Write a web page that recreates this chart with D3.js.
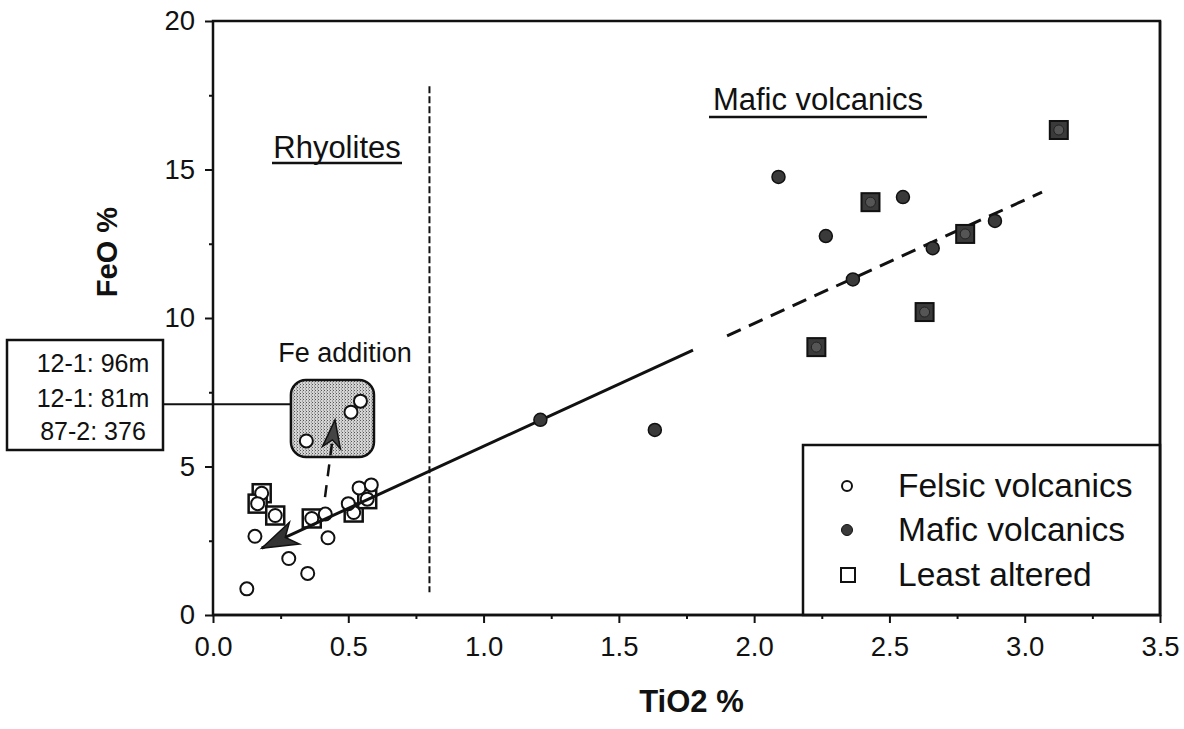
<!DOCTYPE html>
<html>
<head>
<meta charset="utf-8">
<script src="https://cdn.jsdelivr.net/npm/d3@7"></script>
<style>
  html, body { margin: 0; padding: 0; background: #fff; }
  svg { display: block; font-family: "Liberation Sans", Arial, Helvetica, sans-serif; }
</style>
</head>
<body>
<svg id="chart" width="1184" height="729"></svg>
<script>
// ---------- data ----------
const xTickValues = [0, 0.5, 1.0, 1.5, 2.0, 2.5, 3.0, 3.5];
const yTickValues = [0, 5, 10, 15, 20];

// Felsic volcanics (open circles)
const felsicTi = [0.125, 0.155, 0.28, 0.35, 0.425, 0.415, 0.50, 0.54, 0.585, 0.345, 0.51, 0.545];
const felsicFe = [0.88, 2.65, 1.90, 1.40, 2.60, 3.40, 3.75, 4.28, 4.38, 5.86, 6.83, 7.20];

// Felsic volcanics, least altered (circle inside open square)
const felsicLeastTi = [0.18, 0.165, 0.23, 0.365, 0.52, 0.57];
const felsicLeastFe = [4.10, 3.75, 3.35, 3.25, 3.45, 3.90];

// Mafic volcanics (filled circles)
const maficTi = [1.21, 1.633, 2.09, 2.55, 2.265, 2.365, 2.66, 2.89];
const maficFe = [6.57, 6.23, 14.75, 14.07, 12.76, 11.30, 12.35, 13.27];

// Mafic volcanics, least altered (filled squares)
const maficLeastTi = [2.43, 2.78, 2.63, 2.23, 3.126];
const maficLeastFe = [13.90, 12.83, 10.20, 9.02, 16.33];

// Trend line (solid part with arrow, dashed extension)
const trendSolidTi = [0.18, 1.774];
const trendSolidFe = [2.25, 8.92];
const trendDashTi = [1.90, 3.064];
const trendDashFe = [9.40, 14.24];

// Fe addition arrow
const feArrowTi = [0.414, 0.451];
const feArrowFe = [3.97, 6.57];

// Rhyolite / mafic divide
const divideTi = 0.8;
const divideFe = [0.77, 17.8];

// Fe addition box extents
const feBoxTi = [0.288, 0.595];
const feBoxFe = [5.32, 7.91];
const labelFe = 7.1;

const sampleLabels = ["12-1: 96m", "12-1: 81m", "87-2: 376"];
const legendLabels = ["Felsic volcanics", "Mafic volcanics", "Least altered"];

// ---------- layout ----------
const svg = d3.select("#chart");
const pL = 213, pR = 1160, pT = 21, pB = 615;
const x = d3.scaleLinear().domain([0, 3.5]).range([pL, pR]);
const y = d3.scaleLinear().domain([0, 20]).range([pB, pT]);
const ink = "#111";

// frame
svg.append("rect").attr("x", pL).attr("y", pT)
  .attr("width", pR - pL).attr("height", pB - pT)
  .attr("fill", "none").attr("stroke", ink).attr("stroke-width", 2.5);

// axes
const minorX = d3.range(0, 3.51, 0.25).filter(v => Math.abs(v * 2 - Math.round(v * 2)) > 1e-6);
const minorY = d3.range(2.5, 20, 5);

const gx = svg.append("g").attr("transform", `translate(0,${pB})`)
  .call(d3.axisBottom(x).tickValues(xTickValues).tickFormat(d3.format(".1f"))
    .tickSize(8).tickPadding(13));
const gxm = svg.append("g").attr("transform", `translate(0,${pB})`)
  .call(d3.axisBottom(x).tickValues(minorX).tickFormat("").tickSize(4));
const gy = svg.append("g").attr("transform", `translate(${pL},0)`)
  .call(d3.axisLeft(y).tickValues(yTickValues).tickFormat(d3.format("d"))
    .tickSize(8).tickPadding(10));
const gym = svg.append("g").attr("transform", `translate(${pL},0)`)
  .call(d3.axisLeft(y).tickValues(minorY).tickFormat("").tickSize(4));

[gx, gxm, gy, gym].forEach(g => {
  g.select(".domain").remove();
  g.selectAll("line").attr("stroke", ink).attr("stroke-width", 2);
  g.selectAll("text").attr("fill", ink).attr("font-size", 27.5)
    .attr("font-family", "Liberation Sans, Arial, sans-serif");
});

// axis titles
svg.append("text").attr("x", (pL + pR) / 2 + 5).attr("y", 712)
  .attr("text-anchor", "middle").attr("font-size", 31).attr("font-weight", "bold")
  .attr("fill", ink).text("TiO2 %");
svg.append("text").attr("transform", "translate(117,252) rotate(-90)")
  .attr("text-anchor", "middle").attr("font-size", 29).attr("font-weight", "bold")
  .attr("fill", ink).text("FeO %");

// divide line
svg.append("line")
  .attr("x1", x(divideTi)).attr("x2", x(divideTi))
  .attr("y1", y(divideFe[1])).attr("y2", y(divideFe[0]))
  .attr("stroke", ink).attr("stroke-width", 2).attr("stroke-dasharray", "7,3");

// region labels with underline
function underlined(text, cx, baseline, ulY, x1, x2) {
  svg.append("text").attr("x", cx).attr("y", baseline).attr("text-anchor", "middle")
    .attr("font-size", 31).attr("fill", ink).text(text);
  svg.append("line").attr("x1", x1).attr("x2", x2).attr("y1", ulY).attr("y2", ulY)
    .attr("stroke", ink).attr("stroke-width", 2.5);
}
underlined("Rhyolites", 337, 158, 163, 272, 402);
underlined("Mafic volcanics", 818, 110, 117, 709, 927);

// sample label box and connector
svg.append("line").attr("x1", 163).attr("x2", x(feBoxTi[0]))
  .attr("y1", y(labelFe)).attr("y2", y(labelFe))
  .attr("stroke", ink).attr("stroke-width", 2);
svg.append("rect").attr("x", 7).attr("y", 340).attr("width", 156).attr("height", 110)
  .attr("fill", "#fff").attr("stroke", ink).attr("stroke-width", 2.5);
const labelBase = [372, 407, 440];
sampleLabels.forEach((t, i) => {
  svg.append("text").attr("x", 93).attr("y", labelBase[i]).attr("text-anchor", "middle")
    .attr("font-size", 25).attr("fill", ink).text(t);
});

// Fe addition box
const defs = svg.append("defs");
const pat = defs.append("pattern").attr("id", "stipple").attr("patternUnits", "userSpaceOnUse")
  .attr("width", 3).attr("height", 3);
pat.append("rect").attr("width", 3).attr("height", 3).attr("fill", "#d4d4d4");
pat.append("rect").attr("x", 0).attr("y", 0).attr("width", 1).attr("height", 1).attr("fill", "#555");
pat.append("rect").attr("x", 2).attr("y", 1.5).attr("width", 1).attr("height", 1).attr("fill", "#777");

svg.append("rect")
  .attr("x", x(feBoxTi[0])).attr("y", y(feBoxFe[1]))
  .attr("width", x(feBoxTi[1]) - x(feBoxTi[0]))
  .attr("height", y(feBoxFe[0]) - y(feBoxFe[1]))
  .attr("rx", 15).attr("ry", 15)
  .attr("fill", "url(#stipple)").attr("stroke", ink).attr("stroke-width", 2.5);
svg.append("text").attr("x", 345).attr("y", 362).attr("text-anchor", "middle")
  .attr("font-size", 27).attr("fill", ink).text("Fe addition");

// arrowhead helper
function arrowHead(tx, ty, fx, fy, L, W, fill) {
  const dx = fx - tx, dy = fy - ty, len = Math.hypot(dx, dy);
  const ux = dx / len, uy = dy / len, nx = -uy, ny = ux;
  const p = [
    [tx, ty],
    [tx + L * ux + W * nx, ty + L * uy + W * ny],
    [tx + 0.72 * L * ux, ty + 0.72 * L * uy],
    [tx + L * ux - W * nx, ty + L * uy - W * ny]
  ];
  svg.append("path").attr("d", "M" + p.map(q => q.join(",")).join("L") + "Z")
    .attr("fill", fill).attr("stroke", ink).attr("stroke-width", 1.5)
    .attr("stroke-linejoin", "miter");
}

const line = d3.line().x(d => x(d[0])).y(d => y(d[1]));

// Fe addition arrow (dashed)
svg.append("path").datum([[feArrowTi[0], feArrowFe[0]], [feArrowTi[1], feArrowFe[1]]])
  .attr("d", line).attr("stroke", ink).attr("stroke-width", 2.5)
  .attr("stroke-dasharray", "12,9").attr("fill", "none");
arrowHead(x(feArrowTi[1]), y(feArrowFe[1]), x(feArrowTi[0]), y(feArrowFe[0]), 28, 9, "#444");

// markers: felsic least altered squares first
const sq = 18;
svg.append("g").selectAll("rect").data(felsicLeastTi).join("rect")
  .attr("x", d => x(d) - sq / 2).attr("y", (d, i) => y(felsicLeastFe[i]) - sq / 2)
  .attr("width", sq).attr("height", sq)
  .attr("fill", "#fff").attr("stroke", ink).attr("stroke-width", 2.5);
svg.append("g").selectAll("circle").data(felsicLeastTi).join("circle")
  .attr("cx", d => x(d)).attr("cy", (d, i) => y(felsicLeastFe[i])).attr("r", 6.5)
  .attr("fill", "#fff").attr("stroke", ink).attr("stroke-width", 2);
svg.append("g").selectAll("circle").data(felsicTi).join("circle")
  .attr("cx", d => x(d)).attr("cy", (d, i) => y(felsicFe[i])).attr("r", 6.5)
  .attr("fill", "#fff").attr("stroke", ink).attr("stroke-width", 2);

// trend line
svg.append("path").datum([[trendSolidTi[0], trendSolidFe[0]], [trendSolidTi[1], trendSolidFe[1]]])
  .attr("d", line).attr("stroke", ink).attr("stroke-width", 3).attr("fill", "none");
svg.append("path").datum([[trendDashTi[0], trendDashFe[0]], [trendDashTi[1], trendDashFe[1]]])
  .attr("d", line).attr("stroke", ink).attr("stroke-width", 3)
  .attr("stroke-dasharray", "15,9").attr("fill", "none");
arrowHead(x(trendSolidTi[0]), y(trendSolidFe[0]), x(trendSolidTi[1]), y(trendSolidFe[1]), 36, 12, "#333");

// mafic markers
svg.append("g").selectAll("rect").data(maficLeastTi).join("rect")
  .attr("x", d => x(d) - sq / 2).attr("y", (d, i) => y(maficLeastFe[i]) - sq / 2)
  .attr("width", sq).attr("height", sq)
  .attr("fill", "#3a3a3a").attr("stroke", ink).attr("stroke-width", 2);
svg.append("g").selectAll("circle").data(maficLeastTi).join("circle")
  .attr("cx", d => x(d)).attr("cy", (d, i) => y(maficLeastFe[i])).attr("r", 5)
  .attr("fill", "#555").attr("stroke", "#222").attr("stroke-width", 1);
svg.append("g").selectAll("circle").data(maficTi).join("circle")
  .attr("cx", d => x(d)).attr("cy", (d, i) => y(maficFe[i])).attr("r", 6.5)
  .attr("fill", "#3a3a3a").attr("stroke", ink).attr("stroke-width", 1.5);

// legend
const lg = svg.append("g");
lg.append("rect").attr("x", 803).attr("y", 445).attr("width", pR - 803).attr("height", pB - 445)
  .attr("fill", "#fff").attr("stroke", ink).attr("stroke-width", 2.5);
const legY = [486, 530, 575];
lg.append("circle").attr("cx", 847).attr("cy", legY[0]).attr("r", 5)
  .attr("fill", "#fff").attr("stroke", ink).attr("stroke-width", 2);
lg.append("circle").attr("cx", 847).attr("cy", legY[1]).attr("r", 5.5)
  .attr("fill", "#3a3a3a").attr("stroke", ink).attr("stroke-width", 1);
lg.append("rect").attr("x", 841).attr("y", legY[2] - 7).attr("width", 14).attr("height", 14)
  .attr("fill", "#fff").attr("stroke", ink).attr("stroke-width", 2);
legendLabels.forEach((t, i) => {
  lg.append("text").attr("x", 898).attr("y", legY[i] + 11).attr("font-size", 33.5)
    .attr("fill", ink).text(t);
});
// redraw frame edges over legend
svg.append("line").attr("x1", pR).attr("x2", pR).attr("y1", pT).attr("y2", pB)
  .attr("stroke", ink).attr("stroke-width", 2.5);
svg.append("line").attr("x1", pL).attr("x2", pR).attr("y1", pB).attr("y2", pB)
  .attr("stroke", ink).attr("stroke-width", 2.5);
</script>
</body>
</html>
